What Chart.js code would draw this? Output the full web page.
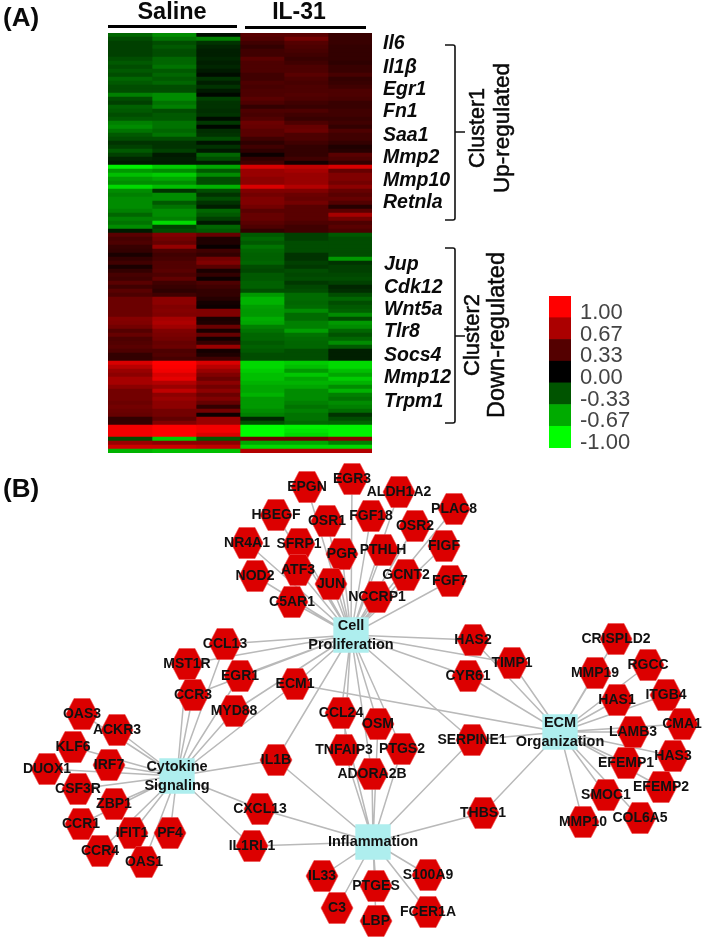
<!DOCTYPE html>
<html><head><meta charset="utf-8">
<style>
html,body{margin:0;padding:0;background:#fff;width:704px;height:940px;overflow:hidden}
#wrap{position:relative;width:704px;height:940px;filter:blur(0.55px)}
canvas{position:absolute;display:block}
</style>
<script src="https://cdn.jsdelivr.net/npm/chart.js@4"></script>
</head><body>
<div id="wrap">
<canvas id="heat" width="704" height="460" style="left:0;top:0"></canvas>
<canvas id="bar" width="110" height="170" style="left:540px;top:285px"></canvas>
<canvas id="net" width="704" height="480" style="left:0;top:460px"></canvas>
</div>
<script>
// ---------- heat map values, one list per sample column, top row first ----------
const saline1=[-.4,-.3,-.25,-.25,-.25,-.25,-.3,-.35,-.3,-.35,-.3,-.4,-.35,-.3,-.3,-.5,-.3,-.25,-.38,-.35,-.3,-.35,-.5,-.55,-.45,-.35,
-.3,-.2,-.25,-.35,-.25,-.15,-.1,-.95,-.6,-.75,-.6,-.55,-.85,-.55,-.5,-.55,-.55,-.55,-.5,-.4,-.5,-.45,-.55,-.1,
.35,.28,
.3,.22,.2,.1,.2,.25,.1,.2,.28,.25,.35,.25,.35,.3,.42,.42,.42,.42,.42,.52,.5,.45,.33,.4,.3,.32,.35,
.3,.2,.2,.85,.72,.6,.55,.65,.65,.55,.45,.45,.45,.42,.45,.42,.4,.2,.2,.95,.95,.95,-.3,.6,.8,-.7];
const saline2=[-.55,-.45,-.3,-.35,-.3,-.3,-.4,-.4,-.45,-.35,-.4,-.35,-.4,-.3,-.3,-.55,-.55,-.45,-.5,-.3,-.35,-.35,-.45,-.45,-.4,-.45,
-.3,-.2,-.2,-.25,-.1,-.12,-.1,-.8,-.55,-.8,-.65,-.55,-.75,-.2,-.55,-.55,-.35,-.45,-.55,-.55,-.5,-.85,-.25,-.3,
.5,.45,
.4,.58,.3,.25,.28,.32,.32,.35,.3,.38,.25,.22,.18,.25,.55,.55,.5,.52,.5,.65,.68,.62,.5,.48,.45,.4,.42,
.3,.32,.28,1,.98,.95,.85,.9,.7,.6,.75,.55,.6,.55,.55,.45,.45,.38,.5,1,1,1,-.8,.55,.8,-.75];
const saline3=[-.05,-.5,-.2,-.15,-.12,-.12,-.15,-.12,-.15,-.1,-.05,-.2,-.12,-.2,-.1,-.03,-.25,-.2,-.2,-.18,-.2,-.05,-.22,-.03,-.18,-.2,
-.3,-.08,-.2,-.1,-.4,-.3,-.1,-.65,-.35,-.55,-.3,-.3,-.7,-.3,-.2,-.3,-.2,-.12,-.4,-.35,-.25,-.1,-.4,-.35,
.4,.12,
.12,.03,.25,.2,.45,.5,.35,.1,.2,.05,.3,.25,.2,.2,.15,.08,.05,.5,.5,.1,.12,.42,.1,.4,.08,.2,.6,
.08,.12,.25,.85,.72,.6,.5,.42,.55,.45,.55,.42,.5,.4,.2,.45,.05,.6,.6,.95,.95,.85,-.35,.55,.75,-.75];
const il31a=[.35,.32,.25,.2,.25,.25,.35,.3,.3,.3,.25,.25,.3,.28,.3,.3,.35,.3,.2,.3,.28,.32,.42,.4,.35,.35,
.25,.18,.25,.18,.05,.2,.25,.85,.6,.6,.55,.55,.85,.5,.45,.5,.5,.45,.35,.4,.4,.35,.3,.2,
-.35,-.4,
-.35,-.45,-.4,-.38,-.38,-.4,-.3,-.28,-.35,-.35,-.38,-.38,-.3,-.6,-.7,-.7,-.62,-.6,-.6,-.68,-.65,-.5,-.45,-.4,-.4,-.35,-.38,
-.35,-.3,-.3,-.85,-.85,-.8,-.75,-.75,-.7,-.65,-.65,-.7,-.6,-.6,-.6,-.55,-.5,-.15,-.3,-1,-1,-1,.45,-.65,-.85,.7];
const il31b=[.35,.45,.33,.3,.28,.25,.22,.25,.3,.3,.35,.3,.28,.3,.3,.32,.3,.25,.22,.3,.25,.22,.3,.4,.42,.3,
.3,.25,.2,.2,.2,.25,.08,.75,.65,.6,.6,.6,.7,.5,.42,.4,.45,.35,.35,.35,.35,.3,.25,.25,
-.25,-.25,
-.3,-.3,-.3,-.2,-.2,-.25,-.22,-.3,-.28,-.3,-.22,-.28,-.3,-.42,-.42,-.4,-.42,-.55,-.42,-.42,-.5,-.5,-.62,-.45,-.42,-.4,-.4,
-.3,-.3,-.3,-.8,-.75,-.6,-.78,-.65,-.7,-.65,-.55,-.55,-.55,-.5,-.45,-.5,-.45,-.45,-.4,-.95,-.9,-.85,.45,-.65,-.85,.7];
const il31c=[.22,.22,.22,.2,.2,.2,.2,.18,.22,.22,.28,.2,.22,.25,.3,.3,.28,.22,.22,.25,.25,.22,.25,.2,.3,.25,
.25,.2,.12,.15,.35,.3,.2,.85,.4,.5,.5,.45,.55,.4,.35,.4,.32,.15,.35,.65,.45,.3,.35,.3,
-.35,-.3,
-.3,-.3,-.3,-.3,-.6,-.2,-.25,-.25,-.28,-.3,-.25,-.15,-.18,-.3,-.4,-.3,-.35,-.38,-.55,-.3,-.6,-.55,-.4,-.32,-.4,-.55,-.35,
-.12,-.12,-.12,-.85,-.85,-.75,-.65,-.8,-.7,-.55,-.7,-.5,-.45,-.55,-.5,-.42,-.2,-.3,-.38,-.95,-.95,-.95,.55,-.5,-.85,.7];
const sampleColumns=[saline1,saline2,saline3,il31a,il31b,il31c];
const legendLabels=['1.00','0.67','0.33','0.00','-0.33','-0.67','-1.00'];
const cluster1Genes=['Il6','Il1β','Egr1','Fn1','Saa1','Mmp2','Mmp10','Retnla'];
const cluster2Genes=['Jup','Cdk12','Wnt5a','Tlr8','Socs4','Mmp12','Trpm1'];

// ---------- network: node names and layout positions ----------
const nodeNames=['EPGN','EGR3','ALDH1A2','HBEGF','OSR1','FGF18','PLAC8','OSR2','NR4A1','SFRP1','PGR','PTHLH','FIGF','ATF3','NOD2','JUN','GCNT2','FGF7','C5AR1','NCCRP1','CCL13','MST1R','EGR1','ECM1','CCR3','MYD88','HAS2','TIMP1','CYR61','CRISPLD2','MMP19','RGCC','HAS1','ITGB4','LAMB3','CMA1','HAS3','EFEMP1','EFEMP2','SMOC1','COL6A5','MMP10','SERPINE1','THBS1','CCL24','OSM','TNFAIP3','PTGS2','ADORA2B','S100A9','PTGES','FCER1A','LBP','OAS3','ACKR3','KLF6','IRF7','DUOX1','CSF3R','ZBP1','CCR1','IFIT1','PF4','CCR4','OAS1','IL1B','CXCL13','IL1RL1','IL33','C3'];
const nodeX=[307,352,399,276,327,371,454,415,247,299,342,383,444,298,255,331,406,450,292,377,225,187,240,295,193,234,473,512,468,616,595,648,617,666,633,682,673,626,661,606,640,583,472,483,341,378,344,402,372,428,376,428,376,82,117,73,109,47,78,114,81,132,170,100,144,276,260,252,322,337];
const nodeY=[487,479,492,515,521,516,509,526,543,544,554,550,546,570,576,584,575,581,602,597,644,664,676,684,695,711,640,663,676,639,673,665,700,695,732,724,756,763,787,795,818,822,740,813,713,724,750,749,774,875,886,912,921,714,730,747,765,769,789,804,824,833,833,851,862,760,809,846,876,908];
const hubNames=['Cell Proliferation','Cytokine Signaling','ECM Organization','Inflammation'];
const hubLines=[['Cell','Proliferation'],['Cytokine','Signaling'],['ECM','Organization'],['Inflammation']];
const hubX=[351,177,560,373];
const hubY=[635,776,732,842];
const cellLinks=['EPGN','EGR3','ALDH1A2','HBEGF','OSR1','FGF18','PLAC8','OSR2','NR4A1','SFRP1','PGR','PTHLH','FIGF','ATF3','NOD2','JUN','GCNT2','FGF7','C5AR1','NCCRP1','CCL13','MST1R','EGR1','ECM1','CCR3','MYD88','HAS2','TIMP1','CYR61','SERPINE1','CCL24','OSM','TNFAIP3','PTGS2','ADORA2B','IL1B'];
const cytokineLinks=['CCL13','MST1R','EGR1','ECM1','CCR3','MYD88','OAS3','ACKR3','KLF6','IRF7','DUOX1','CSF3R','ZBP1','CCR1','IFIT1','PF4','CCR4','OAS1','IL1B','CXCL13','IL1RL1'];
const ecmLinks=['ECM1','HAS2','TIMP1','CYR61','CRISPLD2','MMP19','RGCC','HAS1','ITGB4','LAMB3','CMA1','HAS3','EFEMP1','EFEMP2','SMOC1','COL6A5','MMP10','SERPINE1','THBS1'];
const inflammationLinks=['SERPINE1','THBS1','CCL24','OSM','TNFAIP3','PTGS2','ADORA2B','S100A9','PTGES','FCER1A','LBP','IL1B','CXCL13','IL1RL1','IL33','C3'];
const hubLinks=[cellLinks,cytokineLinks,ecmLinks,inflammationLinks];

// ---------- helpers ----------
function colorFor(v){
  const c=Math.round(255*Math.abs(v));
  return v>=0?`rgb(${c},0,0)`:`rgb(0,${c},0)`;
}
function text(ctx,str,x,y,font,color,align){
  ctx.font=font;ctx.fillStyle=color||'#000';ctx.textAlign=align||'left';ctx.textBaseline='middle';
  ctx.fillText(str,x,y);
}
function vtext(ctx,str,x,y,font){
  ctx.save();ctx.translate(x,y);ctx.rotate(-Math.PI/2);
  text(ctx,str,0,0,font,'#0a0a0a','center');
  ctx.strokeStyle='#0a0a0a';ctx.lineWidth=.5;ctx.strokeText(str,0,0);ctx.restore();
}
function bracket(ctx,top,bottom,mid){
  ctx.strokeStyle='#111';ctx.lineWidth=1.6;ctx.beginPath();
  ctx.moveTo(445,top);ctx.lineTo(453,top);ctx.quadraticCurveTo(455,top,455,top+2);
  ctx.lineTo(455,bottom-2);ctx.quadraticCurveTo(455,bottom,453,bottom);ctx.lineTo(445,bottom);
  ctx.moveTo(455,mid);ctx.lineTo(465,mid);ctx.stroke();
}
const SANS="'Liberation Sans',Arial,sans-serif";
Chart.defaults.animation=false;
Chart.defaults.events=[];
Chart.defaults.plugins.legend.display=false;
Chart.defaults.plugins.tooltip.enabled=false;

// ---------- (A) heat map ----------
const rowLabels=saline1.map((_,i)=>i);
const annotateHeat={id:'annotateHeat',afterDraw(chart){
  const c=chart.ctx;c.save();
  text(c,'(A)',3,19,`bold 26px ${SANS}`,'#0a0a0a');
  text(c,'Saline',172,13,`bold 23.5px ${SANS}`,'#0a0a0a','center');
  text(c,'IL-31',299,13,`bold 23px ${SANS}`,'#0a0a0a','center');
  c.fillStyle='#000';c.fillRect(108,25,129,3);c.fillRect(245,26,121,3);
  const y1=[44,68,90,112,136,158,181,203], y2=[265,288,310,332,356,378,402];
  cluster1Genes.forEach((g,i)=>text(c,g,383,y1[i],`italic bold 19.5px ${SANS}`,'#0a0a0a'));
  cluster2Genes.forEach((g,i)=>text(c,g,384,y2[i],`italic bold 19.5px ${SANS}`,'#0a0a0a'));
  bracket(c,45,220,132);bracket(c,248,423,336);
  vtext(c,'Cluster1',478,128,`21.5px ${SANS}`);
  vtext(c,'Up-regulated',503,128,`22.5px ${SANS}`);
  vtext(c,'Cluster2',473,335,`22px ${SANS}`);
  vtext(c,'Down-regulated',498,335,`23.5px ${SANS}`);
  c.restore();
}};
new Chart(document.getElementById('heat'),{
  type:'bar',
  data:{labels:rowLabels,datasets:sampleColumns.map((col,k)=>({
    data:col.map(()=>[k,k+1]),
    backgroundColor:col.map(colorFor),
    borderWidth:0,barPercentage:1,categoryPercentage:1,grouped:false
  }))},
  options:{indexAxis:'y',responsive:false,maintainAspectRatio:false,
    layout:{autoPadding:false,padding:{left:108,right:332,top:33,bottom:7}},
    scales:{x:{type:'linear',min:0,max:6,display:false},
            y:{type:'category',display:false,offset:true}}},
  plugins:[annotateHeat]
});

// ---------- colour key ----------
new Chart(document.getElementById('bar'),{
  type:'bar',
  data:{labels:legendLabels,datasets:[{
    data:legendLabels.map(()=>1),
    backgroundColor:legendLabels.map(l=>colorFor(Number(l))),
    borderWidth:0,barPercentage:1,categoryPercentage:1}]},
  options:{indexAxis:'y',responsive:false,maintainAspectRatio:false,
    layout:{autoPadding:false,padding:{left:9,right:0,top:11,bottom:7}},
    scales:{x:{min:0,max:1,display:false},
      y:{position:'right',grid:{display:false,drawTicks:false},border:{display:false},
         afterFit(s){s.width=79;s.paddingTop=0;s.paddingBottom=0},
         ticks:{autoSkip:false,padding:9,labelOffset:6,color:'#444',font:{family:'Liberation Sans',size:22}}}}}
});

// ---------- (B) network ----------
function hexagon(){
  const s=document.createElement('canvas');s.width=36;s.height=36;
  const c=s.getContext('2d');
  c.beginPath();c.moveTo(2,18);c.lineTo(10,2.5);c.lineTo(26,2.5);c.lineTo(34,18);c.lineTo(26,33.5);c.lineTo(10,33.5);c.closePath();
  c.fillStyle='#dc0000';c.fill();c.strokeStyle='#ee5050';c.lineWidth=.6;c.stroke();
  return s;
}
const idx=n=>nodeNames.indexOf(n);
const linkSets=hubLinks.map((links,h)=>{
  const pts=[];
  links.forEach(n=>{pts.push({x:hubX[h],y:hubY[h]});pts.push({x:nodeX[idx(n)],y:nodeY[idx(n)]});});
  return {type:'scatter',data:pts,showLine:true,borderColor:'#b9b9b9',borderWidth:1.5,pointRadius:0,order:3,fill:false};
});
const labelNodes={id:'labelNodes',afterDatasetsDraw(chart){
  const c=chart.ctx,sx=chart.scales.x,sy=chart.scales.y;c.save();
  nodeNames.forEach((n,i)=>text(c,n,sx.getPixelForValue(nodeX[i]),sy.getPixelForValue(nodeY[i]),`bold 14px ${SANS}`,'#111','center'));
  hubLines.forEach((lines,h)=>{
    const y0=sy.getPixelForValue(hubY[h])-(lines.length-1)*9.5;
    lines.forEach((l,j)=>text(c,l,sx.getPixelForValue(hubX[h]),y0+j*19,`bold 14.5px ${SANS}`,'#111','center'));
  });
  text(c,'(B)',3,30,`bold 26px ${SANS}`,'#0a0a0a');
  c.restore();
}};
new Chart(document.getElementById('net'),{
  type:'scatter',
  data:{datasets:[...linkSets,
    {data:nodeNames.map((n,i)=>({x:nodeX[i],y:nodeY[i]})),pointStyle:hexagon(),pointRadius:16,order:2},
    {data:hubNames.map((n,i)=>({x:hubX[i],y:hubY[i]})),pointStyle:'rect',pointRadius:25,
     backgroundColor:'#aeeeee',borderWidth:0,order:1}
  ]},
  options:{responsive:false,maintainAspectRatio:false,clip:false,
    layout:{autoPadding:false},
    scales:{x:{type:'linear',min:0,max:704,display:false},
            y:{type:'linear',min:460,max:940,reverse:true,display:false}}},
  plugins:[labelNodes]
});
</script>
</body></html>
